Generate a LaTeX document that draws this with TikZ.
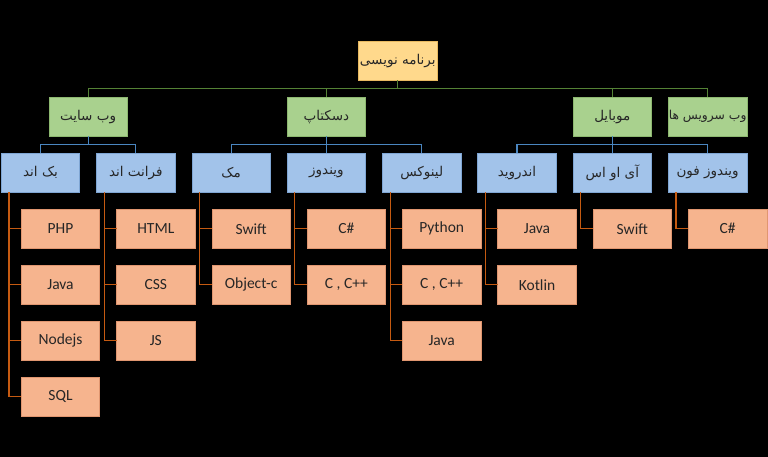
\documentclass[tikz,border=0pt]{standalone}
\usepackage{fontspec}
\setmainfont{Carlito}
\newfontfamily\fafont[Script=Arabic]{DejaVu Sans}
\TeXXeTstate=1
\usepackage{tikz}
\usetikzlibrary{positioning}

\definecolor{rootfill}{HTML}{FFD98C}
\definecolor{rootedge}{HTML}{E8B960}
\definecolor{greenfill}{HTML}{A9D18E}
\definecolor{greenedge}{HTML}{8DB870}
\definecolor{greenline}{HTML}{548235}
\definecolor{bluefill}{HTML}{A2C3EA}
\definecolor{blueedge}{HTML}{7FA6D4}
\definecolor{blueline}{HTML}{4A86C0}
\definecolor{orangefill}{HTML}{F6B48E}
\definecolor{orangeedge}{HTML}{E09670}
\definecolor{orangeline}{HTML}{C55A11}

\newcommand{\fatext}[2][13.5]{{\fafont\fontsize{#1}{16}\selectfont\beginR #2\endR}}

\begin{document}
\begin{tikzpicture}[x=1pt, y=1pt, node distance=17pt and 16.8pt, font=\fontsize{15.5}{18}\selectfont]
    \tikzstyle{box}=[rectangle, draw, line width=0.6pt, outer sep=0pt, minimum width=78.5pt, minimum height=39pt, inner sep=0pt, align=center, text=black!85]
    \tikzstyle{rootbox}=[box, fill=rootfill, draw=rootedge]
    \tikzstyle{groupbox}=[box, fill=greenfill, draw=greenedge]
    \tikzstyle{subbox}=[box, fill=bluefill, draw=blueedge]
    \tikzstyle{langbox}=[box, fill=orangefill, draw=orangeedge]
    \tikzstyle{groupline}=[draw=greenline, line width=1.2pt]
    \tikzstyle{subline}=[draw=blueline, line width=1.2pt]
    \tikzstyle{langline}=[draw=orangeline, line width=1.2pt]

    \fill[black] (0,0) rectangle (768,457);
    \useasboundingbox (0,0) rectangle (768,457);

    % top
    \node[rootbox] (root) at (397.8,396.3) {\fatext{برنامه نویسی}};

    % second row
    \node[subbox] (back) at (40.5,284.2) {\fatext{بک اند}};
    \node[subbox, right=of back] (front) {\fatext{فرانت اند}};
    \node[subbox, right=of front] (mac) {\fatext{مک}};
    \node[subbox, right=of mac] (win) {\fatext{ویندوز}};
    \node[subbox, right=of win] (linux) {\fatext{لینوکس}};
    \node[subbox, right=of linux] (android) {\fatext{اندروید}};
    \node[subbox, right=of android] (ios) {\fatext{آی او اس}};
    \node[subbox, right=of ios] (winphone) {\fatext{ویندوز فون}};

    % groups
    \node[groupbox, above=of front, xshift=-47.7pt] (website) {\fatext{وب سایت}};
    \node[groupbox, above=of win] (desktop) {\fatext{دسکتاپ}};
    \node[groupbox, above=of ios] (mobile) {\fatext{موبایل}};
    \node[groupbox, above=of winphone] (service) {\fatext[12.3]{وب سرویس ها}};

    % languages
    \node[langbox, below=of back, xshift=20pt] (php) {PHP};
    \node[langbox, below=of php] (javaback) {Java};
    \node[langbox, below=of javaback] (nodejs) {Nodejs};
    \node[langbox, below=of nodejs] (sql) {SQL};
    \node[langbox, below=of front, xshift=20pt] (html) {HTML};
    \node[langbox, below=of html] (css) {CSS};
    \node[langbox, below=of css] (js) {JS};
    \node[langbox, below=of mac, xshift=20pt] (swiftmac) {Swift};
    \node[langbox, below=of swiftmac] (objc) {Object-c};
    \node[langbox, below=of win, xshift=20pt] (cswin) {C\#};
    \node[langbox, below=of cswin] (cppwin) {C , C++};
    \node[langbox, below=of linux, xshift=20pt] (python) {Python};
    \node[langbox, below=of python] (cpplinux) {C , C++};
    \node[langbox, below=of cpplinux] (javalinux) {Java};
    \node[langbox, below=of android, xshift=20pt] (javaandroid) {Java};
    \node[langbox, below=of javaandroid] (kotlin) {Kotlin};
    \node[langbox, below=of ios, xshift=20pt] (swiftios) {Swift};
    \node[langbox, below=of winphone, xshift=20pt] (cswp) {C\#};

    % connectors
    \draw[groupline] (root.south) -- ++(0,-8.3) -| (website.north);
    \draw[groupline] (root.south) -- ++(0,-8.3) -| (desktop.north);
    \draw[groupline] (root.south) -- ++(0,-8.3) -| (mobile.north);
    \draw[groupline] (root.south) -- ++(0,-8.3) -| (service.north);

    \draw[subline] (website.south) -- ++(0,-8.3) -| (back.north);
    \draw[subline] (website.south) -- ++(0,-8.3) -| (front.north);
    \draw[subline] (desktop.south) -- ++(0,-8.3) -| (mac.north);
    \draw[subline] (desktop.south) -- ++(0,-8.3) -| (win.north);
    \draw[subline] (desktop.south) -- ++(0,-8.3) -| (linux.north);
    \draw[subline] (mobile.south) -- ++(0,-8.3) -| (android.north);
    \draw[subline] (mobile.south) -- ++(0,-8.3) -| (ios.north);
    \draw[subline] (mobile.south) -- ++(0,-8.3) -| (winphone.north);

    \draw[langline] ([xshift=7.7pt]back.south west) |- (php.west);
    \draw[langline] ([xshift=7.7pt]back.south west) |- (javaback.west);
    \draw[langline] ([xshift=7.7pt]back.south west) |- (nodejs.west);
    \draw[langline] ([xshift=7.7pt]back.south west) |- (sql.west);
    \draw[langline] ([xshift=7.7pt]front.south west) |- (html.west);
    \draw[langline] ([xshift=7.7pt]front.south west) |- (css.west);
    \draw[langline] ([xshift=7.7pt]front.south west) |- (js.west);
    \draw[langline] ([xshift=7.7pt]mac.south west) |- (swiftmac.west);
    \draw[langline] ([xshift=7.7pt]mac.south west) |- (objc.west);
    \draw[langline] ([xshift=7.7pt]win.south west) |- (cswin.west);
    \draw[langline] ([xshift=7.7pt]win.south west) |- (cppwin.west);
    \draw[langline] ([xshift=7.7pt]linux.south west) |- (python.west);
    \draw[langline] ([xshift=7.7pt]linux.south west) |- (cpplinux.west);
    \draw[langline] ([xshift=7.7pt]linux.south west) |- (javalinux.west);
    \draw[langline] ([xshift=7.7pt]android.south west) |- (javaandroid.west);
    \draw[langline] ([xshift=7.7pt]android.south west) |- (kotlin.west);
    \draw[langline] ([xshift=7.7pt]ios.south west) |- (swiftios.west);
    \draw[langline] ([xshift=7.7pt]winphone.south west) |- (cswp.west);
  \end{tikzpicture}
\end{document}
